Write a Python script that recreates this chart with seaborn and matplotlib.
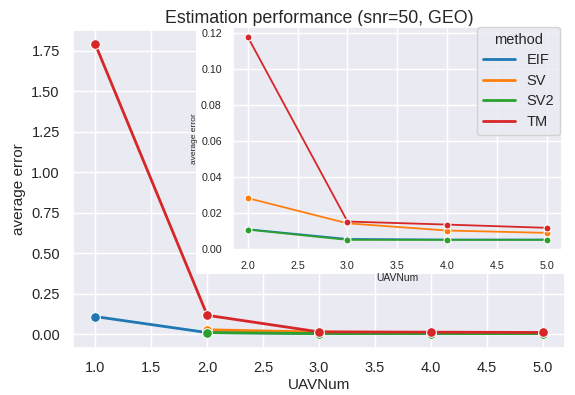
import pandas as pd
import numpy as np
import matplotlib
matplotlib.use("Agg")
import matplotlib.pyplot as plt
import seaborn as sns
from matplotlib.patches import Rectangle
from matplotlib.lines import Line2D

# values
uav_eif = [1, 2, 3, 4, 5]
err_eif = [0.110, 0.0112, 0.0058, 0.0055, 0.0055]
uav_sv = [2, 3, 4, 5]
err_sv = [0.0285, 0.0145, 0.0105, 0.0092]
uav_sv2 = [2, 3, 4, 5]
err_sv2 = [0.0110, 0.0053, 0.0053, 0.0053]
uav_tm = [1, 2, 3, 4, 5]
err_tm = [1.79, 0.118, 0.0155, 0.0138, 0.0120]

methods = ["EIF", "SV", "SV2", "TM"]

df = pd.concat([
    pd.DataFrame({"UAVNum": uav_eif, "average error": err_eif, "method": "EIF"}),
    pd.DataFrame({"UAVNum": uav_sv, "average error": err_sv, "method": "SV"}),
    pd.DataFrame({"UAVNum": uav_sv2, "average error": err_sv2, "method": "SV2"}),
    pd.DataFrame({"UAVNum": uav_tm, "average error": err_tm, "method": "TM"}),
], ignore_index=True)

sns.set_theme(style="darkgrid")
plt.rcParams["font.family"] = ["Liberation Sans", "DejaVu Sans"]
palette = sns.color_palette("tab10", 4)

fig = plt.figure(figsize=(5.75, 3.95), dpi=100)
ax = fig.add_axes([0.127, 0.119, 0.856, 0.805])
sns.lineplot(data=df, x="UAVNum", y="average error", hue="method", hue_order=methods,
             palette=palette, marker="o", markersize=7, linewidth=2, ax=ax, legend=False)
ax.set_title("Estimation performance (snr=50, GEO)", fontsize=12.8, pad=5)
ax.set_xlabel("UAVNum", fontsize=11, labelpad=2)
ax.set_ylabel("average error", fontsize=11)
ax.tick_params(labelsize=10.5)

# white backdrop behind the inset
fig.patches.append(Rectangle((196 / 575, 1 - 274 / 395), 370 / 575, 247 / 395,
                             transform=fig.transFigure, facecolor="white",
                             edgecolor="none", zorder=1))

ins = fig.add_axes([0.405, 0.367, 0.572, 0.565])
ins.set_zorder(2)
sub = df[df["UAVNum"] >= 2]
sns.lineplot(data=sub, x="UAVNum", y="average error", hue="method", hue_order=methods,
             palette=palette, marker="o", markersize=5, linewidth=1.3, ax=ins, legend=False)
ins.set_xlabel("UAVNum", fontsize=7.5, labelpad=1)
ins.set_ylabel("average error", fontsize=6, labelpad=2)
ins.tick_params(labelsize=7.7, pad=2)
ins.set_yticks([0.0, 0.02, 0.04, 0.06, 0.08, 0.10, 0.12])
handles = [Line2D([], [], color=c, linewidth=2) for c in palette]
ins.legend(handles, methods, title="method", loc="upper right", fontsize=10.5,
           title_fontsize=10.5, borderaxespad=0.0, bbox_to_anchor=(0.995, 1.0),
           handlelength=2.2, labelspacing=0.45)

fig.savefig("out.png", dpi=100)
plt.close("all")
